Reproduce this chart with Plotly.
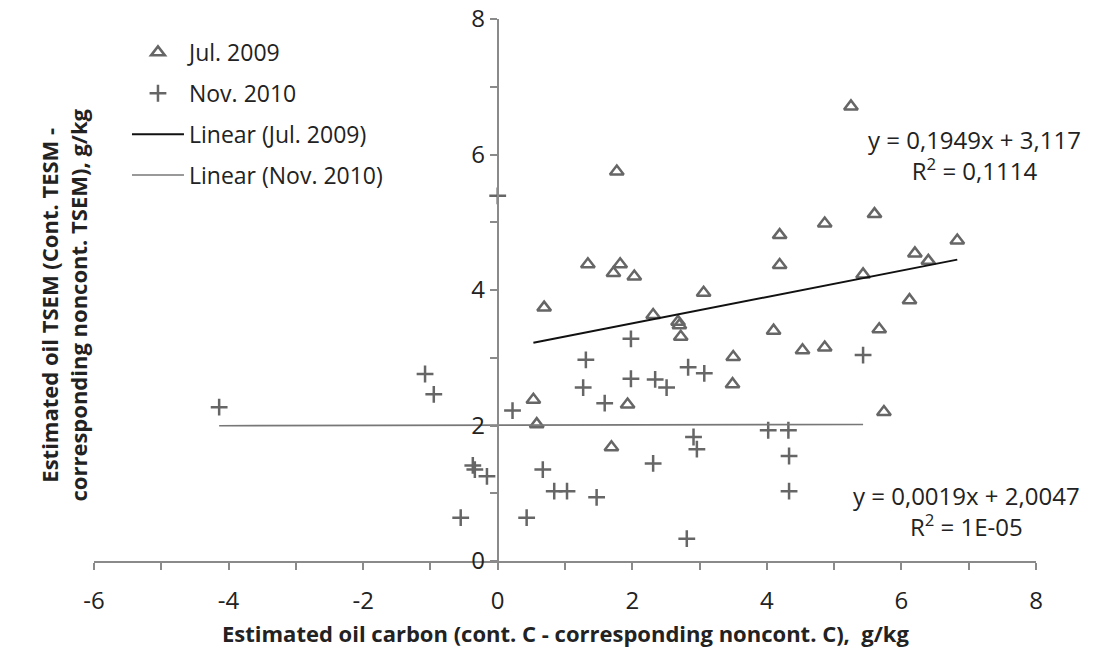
import numpy as np
import plotly.graph_objects as go

# Jul. 2009 samples: estimated oil carbon (x) vs estimated oil TSEM (y), g/kg
jul_x = [1.77, 5.25, 4.19, 4.86, 5.60, 6.83, 6.20, 6.40, 4.19, 1.34, 1.82,
         1.72, 2.03, 0.69, 3.06, 2.31, 2.68, 2.70, 2.72, 3.50, 3.49, 0.53,
         1.93, 0.58, 1.69, 5.43, 6.12, 4.10, 5.67, 4.53, 4.86, 5.74]
jul_y = [5.75, 6.71, 4.81, 4.98, 5.12, 4.73, 4.54, 4.43, 4.37, 4.38, 4.38,
         4.25, 4.20, 3.74, 3.96, 3.63, 3.53, 3.48, 3.31, 3.01, 2.61, 2.38,
         2.31, 2.02, 1.68, 4.23, 3.85, 3.40, 3.42, 3.11, 3.15, 2.20]

# Nov. 2010 samples
nov_x = [-4.14, -1.08, -0.95, 0.22, -0.37, -0.34, -0.16, 0.67, 0.84, 1.03,
         1.47, -0.55, 0.43, 1.27, 2.31, 2.91, 2.96, 2.81, 1.31, 1.98, 1.98,
         1.59, 2.34, 2.51, 2.83, 3.07, 4.02, 4.32, 4.33, 4.33, 5.43, 0.00]
nov_y = [2.27, 2.76, 2.46, 2.22, 1.41, 1.35, 1.25, 1.35, 1.03, 1.03,
         0.94, 0.64, 0.64, 2.56, 1.44, 1.83, 1.65, 0.33, 2.97, 3.28, 2.69,
         2.33, 2.68, 2.56, 2.86, 2.77, 1.93, 1.93, 1.55, 1.03, 3.04, 5.39]

# Linear trend coefficients (slope, intercept) and R²
jul_fit = (0.1949, 3.117, "0,1114")
nov_fit = (0.0019, 2.0047, "1E-05")

# Axis ticks (labels use a plain hyphen for negatives)
x_ticks = [-6, -4, -2, 0, 2, 4, 6, 8]
x_tick_labels = ["-6", "-4", "-2", "0", "2", "4", "6", "8"]
y_ticks = [0, 2, 4, 6, 8]
y_tick_labels = ["0", "2", "4", "6", "8"]

X_TITLE = "Estimated oil carbon (cont. C - corresponding noncont. C),  g/kg"
Y_TITLE = "Estimated oil TSEM (Cont. TESM -<br>corresponding noncont. TSEM), g/kg"

FONT = "'Open Sans', 'Noto Sans', sans-serif"
AXIS_GREY = "#8a8a8a"
MARK_GREY = "#666666"
TEXT = "#222222"


def fmt(v):
    return f"{v}".replace(".", ",")


def trend(xs, fit):
    x = np.array([min(xs), max(xs)])
    return x, fit[0] * x + fit[1]


fig = go.Figure()

fig.add_trace(go.Scatter(
    x=jul_x, y=jul_y, mode="markers", name="Jul. 2009",
    legendgroup="a",
    marker=dict(symbol="triangle-up-open", size=12, color=MARK_GREY,
                line=dict(width=2.5, color=MARK_GREY)),
))
fig.add_trace(go.Scatter(
    x=nov_x, y=nov_y, mode="markers", name="Nov. 2010",
    legendgroup="b",
    marker=dict(symbol="cross-thin-open", size=12, color=MARK_GREY,
                line=dict(width=2.5, color=MARK_GREY)),
))

tx, ty = trend(jul_x, jul_fit)
fig.add_trace(go.Scatter(
    x=tx, y=ty, mode="lines", name="Linear (Jul. 2009)", legendgroup="c",
    line=dict(color="#111111", width=2),
))
tx, ty = trend(nov_x, nov_fit)
fig.add_trace(go.Scatter(
    x=tx, y=ty, mode="lines", name="Linear (Nov. 2010)", legendgroup="d",
    line=dict(color="#777777", width=1.6),
))

# Trendline equations
for fit, ax, ay in [(jul_fit, 7.09, 5.99), (nov_fit, 6.97, 0.74)]:
    fig.add_annotation(
        x=ax, y=ay, xref="x", yref="y", showarrow=False, align="center",
        text=f"y = {fmt(fit[0])}x + {fmt(fit[1])}<br>R<sup>2</sup> = {fit[2]}",
        font=dict(family=FONT, size=24, color=TEXT),
    )

# Axis titles
fig.add_annotation(
    x=-0.066, y=0.472, xref="paper", yref="paper", showarrow=False,
    textangle=-90, align="center", text=f"<b>{Y_TITLE}</b>",
    font=dict(family=FONT, size=22, color=TEXT),
)
fig.add_annotation(
    x=0.5, y=-0.133, xref="paper", yref="paper", showarrow=False,
    xanchor="center", yanchor="middle", text=f"<b>{X_TITLE}</b>",
    font=dict(family=FONT, size=22, color=TEXT),
)

fig.update_layout(
    width=1093, height=650,
    margin=dict(l=94, r=57, t=19, b=89, autoexpand=False),
    paper_bgcolor="white", plot_bgcolor="white",
    font=dict(family=FONT, size=23, color=TEXT),
    showlegend=True,
    legend=dict(
        x=0.035, y=0.978, xanchor="left", yanchor="top",
        bgcolor="rgba(0,0,0,0)", traceorder="grouped", tracegroupgap=8,
        itemwidth=52, font=dict(family=FONT, size=23, color=TEXT),
    ),
    xaxis=dict(
        range=[-6, 8], tickmode="array", tickvals=x_ticks,
        ticktext=x_tick_labels, showgrid=False, zeroline=False,
        automargin=False,
        showline=True, linecolor=AXIS_GREY, linewidth=2,
        ticks="outside", ticklen=7, tickwidth=2, tickcolor=AXIS_GREY,
        minor=dict(dtick=1, tick0=0, ticks="outside", ticklen=7, tickwidth=2,
                   tickcolor=AXIS_GREY, showgrid=False),
        ticklabelstandoff=10,
        tickfont=dict(family=FONT, size=24, color=TEXT),
    ),
    yaxis=dict(
        range=[0, 8], tickmode="array", tickvals=y_ticks,
        ticktext=y_tick_labels, showgrid=False, zeroline=False,
        automargin=False,
        anchor="free", position=403.7 / 942, side="left",
        showline=True, linecolor=AXIS_GREY, linewidth=2,
        ticks="outside", ticklen=7, tickwidth=2, tickcolor=AXIS_GREY,
        minor=dict(dtick=1, tick0=0, ticks="outside", ticklen=7, tickwidth=2,
                   tickcolor=AXIS_GREY, showgrid=False),
        tickfont=dict(family=FONT, size=24, color=TEXT),
    ),
)

fig.write_html("out.html")
